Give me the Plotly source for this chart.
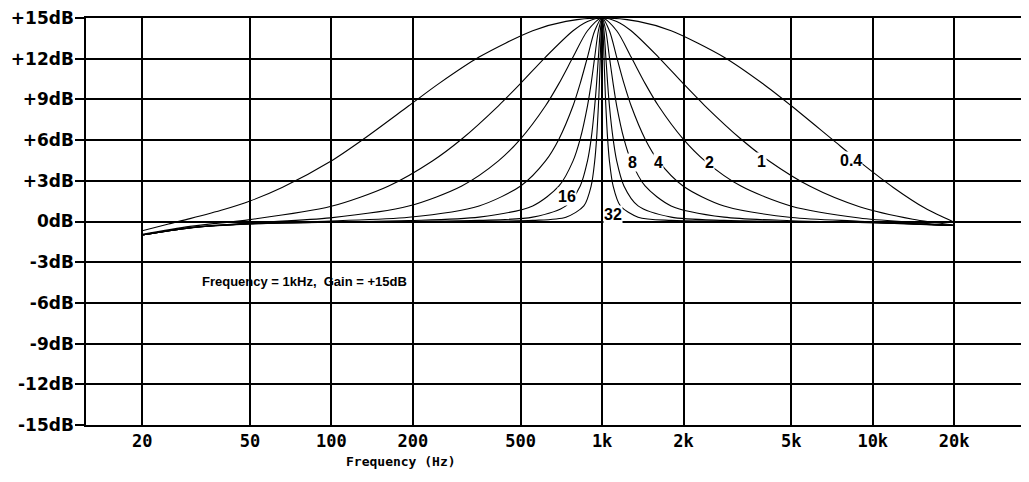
import plotly.graph_objects as go

# ---- data (frequency in Hz, level in dB) ----
q04_freq = [20, 25, 30, 40, 50, 66, 99, 131, 193, 250, 351, 554, 735, 1000, 1358, 1799, 2822, 3918, 5011, 7086, 8932, 11906, 15637, 20000]
q04_db = [-0.68, -0.18, 0.21, 0.88, 1.51, 2.52, 4.42, 6.06, 8.53, 10.18, 12.12, 14.06, 14.75, 15.0, 14.75, 14.06, 12.11, 10.17, 8.51, 6.05, 4.41, 2.51, 0.97, -0.05]

q1_freq = [20, 30, 50, 99, 162, 236, 303, 414, 500, 618, 781, 883, 1000, 1132, 1280, 1614, 1991, 2398, 3257, 4138, 5866, 8932, 14061, 20000]
q1_db = [-0.95, -0.36, 0.14, 1.10, 2.60, 4.46, 6.08, 8.53, 10.18, 12.12, 14.06, 14.75, 15.0, 14.75, 14.06, 12.12, 10.18, 8.53, 6.08, 4.46, 2.59, 1.09, 0.17, -0.26]

q2_freq = [20, 30, 50, 99, 193, 303, 414, 500, 618, 693, 781, 883, 1000, 1132, 1280, 1441, 1614, 1991, 2398, 3257, 5011, 8932, 14061, 20000]
q2_db = [-0.99, -0.45, -0.10, 0.27, 1.14, 2.62, 4.47, 6.09, 8.53, 10.18, 12.12, 14.06, 15.0, 14.06, 12.12, 10.18, 8.53, 6.09, 4.47, 2.61, 1.13, 0.26, -0.07, -0.29]

q4_freq = [20, 30, 50, 99, 193, 351, 500, 618, 693, 781, 830, 883, 939, 1000, 1064, 1132, 1204, 1280, 1441, 1614, 1991, 2822, 5011, 8932, 20000]
q4_db = [-1.0, -0.46, -0.16, 0.04, 0.31, 1.15, 2.62, 4.47, 6.09, 8.53, 10.18, 12.12, 14.06, 15.0, 14.06, 12.12, 10.18, 8.53, 6.09, 4.47, 2.62, 1.14, 0.30, 0.02, -0.30]

q8_freq = [20, 30, 50, 100, 193, 351, 554, 693, 781, 830, 883, 911, 939, 969, 1000, 1032, 1064, 1098, 1132, 1204, 1280, 1441, 1799, 2822, 5011, 10000, 20000]
q8_db = [-1.0, -0.47, -0.17, -0.03, 0.07, 0.32, 1.15, 2.62, 4.47, 6.09, 8.53, 10.18, 12.12, 14.06, 15.0, 14.06, 12.12, 10.18, 8.53, 6.09, 4.47, 2.62, 1.15, 0.32, 0.06, -0.06, -0.30]

q16_freq = [20, 30, 50, 100, 193, 351, 554, 735, 830, 883, 911, 939, 954, 969, 984.5, 1000, 1016, 1032, 1048, 1064, 1098, 1132, 1204, 1358, 1799, 2822, 5011, 10000, 20000]
q16_db = [-1.0, -0.47, -0.17, -0.04, 0.01, 0.08, 0.32, 1.15, 2.62, 4.47, 6.09, 8.53, 10.18, 12.12, 14.06, 15.0, 14.06, 12.12, 10.18, 8.53, 6.09, 4.47, 2.62, 1.15, 0.32, 0.08, 0.0, -0.08, -0.30]

q32_freq = [20, 30, 50, 100, 200, 351, 554, 735, 856, 911, 939, 954, 969, 977, 984.5, 992, 1000, 1008, 1016, 1024, 1032, 1048, 1064, 1098, 1168, 1358, 1799, 2822, 5000, 10000, 20000]
q32_db = [-1.0, -0.47, -0.18, -0.045, -0.01, 0.02, 0.08, 0.32, 1.15, 2.62, 4.47, 6.09, 8.53, 10.18, 12.12, 14.06, 15.0, 14.06, 12.12, 10.18, 8.53, 6.09, 4.47, 2.62, 1.15, 0.32, 0.08, 0.02, -0.02, -0.08, -0.30]

curves = [
    ("0.4", q04_freq, q04_db),
    ("1", q1_freq, q1_db),
    ("2", q2_freq, q2_db),
    ("4", q4_freq, q4_db),
    ("8", q8_freq, q8_db),
    ("16", q16_freq, q16_db),
    ("32", q32_freq, q32_db),
]

x_tick_values = [20, 50, 100, 200, 500, 1000, 2000, 5000, 10000, 20000]
x_tick_labels = ["20", "50", "100", "200", "500", "1k", "2k", "5k", "10k", "20k"]
y_tick_values = [-15, -12, -9, -6, -3, 0, 3, 6, 9, 12, 15]
y_tick_labels = ["-15dB", "-12dB", "-9dB", "-6dB", "-3dB", "0dB", "+3dB", "+6dB", "+9dB", "+12dB", "+15dB"]

curve_label_texts = ["0.4", "1", "2", "4", "8", "16", "32"]
info_text = "Frequency = 1kHz,&nbsp; Gain = +15dB"
x_title = "Frequency (Hz)"

# ---- figure ----
fig = go.Figure()
for name, fr, db in curves:
    fig.add_trace(go.Scatter(
        x=fr, y=db, mode="lines", name=name,
        line=dict(color="black", width=1.1, shape="spline", smoothing=0.8),
        hoverinfo="skip", showlegend=False,
    ))

# label positions (log10 frequency, dB) — layout only
label_pos = [(3.920, 4.47), (3.589, 4.44), (3.397, 4.37), (3.207, 4.37),
             (3.114, 4.37), (2.869, 1.87), (3.040, 0.51)]
for txt, (lx, ly) in zip(curve_label_texts, label_pos):
    fig.add_annotation(
        x=lx, y=ly, xref="x", yref="y", text=txt, showarrow=False,
        font=dict(family="Liberation Sans", size=16, color="black", weight="bold"),
        bgcolor="white", borderpad=0,
    )

fig.add_annotation(
    x=1.514, y=-4.44, xref="x", yref="y", text=info_text, showarrow=False,
    xanchor="left", yanchor="middle",
    font=dict(family="Liberation Sans", size=13, color="black", weight="bold"),
)

fig.add_annotation(
    x=2.257, y=-0.0905, xref="x", yref="paper", text=x_title, showarrow=False,
    xanchor="center", yanchor="middle",
    font=dict(family="DejaVu Sans Mono", size=13, color="black", weight="bold"),
)

fig.update_xaxes(
    type="log", range=[1.0930, 4.5773],
    tickvals=x_tick_values, ticktext=x_tick_labels,
    showgrid=True, gridcolor="black", gridwidth=1.5,
    showline=True, linecolor="black", linewidth=1.5, mirror=True,
    ticks="", zeroline=False,
    tickfont=dict(family="DejaVu Sans Mono", size=17, color="black", weight="bold"),
)
fig.update_yaxes(
    range=[-15, 15],
    tickvals=y_tick_values, ticktext=y_tick_labels,
    showgrid=True, gridcolor="black", gridwidth=1.5,
    showline=True, linecolor="black", linewidth=1.5, mirror=False,
    ticks="outside", ticklen=9, tickcolor="black", tickwidth=1.5,
    zeroline=False, ticklabeloverflow="allow", ticklabelstandoff=-2,
    tickfont=dict(family="DejaVu Sans", size=17, color="black", weight="bold"),
)

# the page body adds an 8 px offset, so the figure is sized to fit the window
fig.update_layout(
    width=1021, height=474,
    margin=dict(l=78, r=0, t=8, b=57),
    plot_bgcolor="white", paper_bgcolor="white",
    showlegend=False,
)

fig.write_html("out.html")
